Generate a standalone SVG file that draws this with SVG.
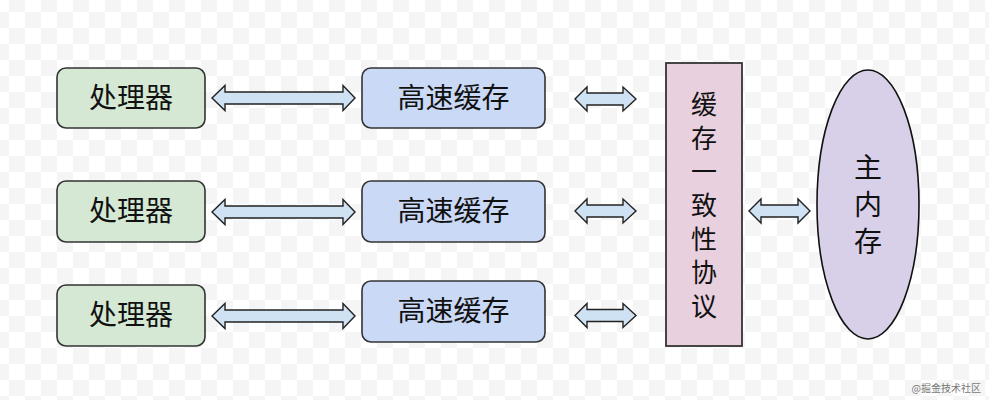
<svg xmlns="http://www.w3.org/2000/svg" width="989" height="400" viewBox="0 0 989 400">
  <defs>
    <pattern id="checker" patternUnits="userSpaceOnUse" x="9" y="12" width="32" height="32">
      <rect x="0" y="0" width="32" height="32" fill="#ffffff"/>
      <rect x="16" y="0" width="16" height="16" fill="#f5f5f5"/>
      <rect x="0" y="16" width="16" height="16" fill="#f5f5f5"/>
    </pattern>
    <style>
      text { font-family: "Noto Sans CJK SC", "Noto Sans", sans-serif; fill: #111111; }
      .lbl { font-size: 28px; text-anchor: middle; }
      .vlbl { font-size: 26px; text-anchor: middle; }
      .cpu { fill: #d5e8d4; stroke: #333333; stroke-width: 1.6; }
      .cache { fill: #cad9f5; stroke: #333333; stroke-width: 1.6; }
      .proto { fill: #e8d0de; stroke: #333333; stroke-width: 1.8; }
      .mem { fill: #d8d0e8; stroke: #111111; stroke-width: 1.6; }
      .arrow { fill: #cfe2f3; stroke: #222222; stroke-width: 1.4; stroke-linejoin: miter; }
      .wm { font-size: 10px; fill: #777777; }
    </style>
  </defs>
  <rect x="0" y="0" width="989" height="400" fill="url(#checker)"/>

  <g id="cpu1"><rect class="cpu" x="57" y="68" width="148" height="60" rx="9"/><text class="lbl" x="131" y="108">处理器</text></g>
  <g id="cpu2"><rect class="cpu" x="57" y="181" width="148" height="61" rx="9"/><text class="lbl" x="131" y="221">处理器</text></g>
  <g id="cpu3"><rect class="cpu" x="57" y="285" width="148" height="61" rx="9"/><text class="lbl" x="131" y="325">处理器</text></g>

  <g id="cache1"><rect class="cache" x="362" y="68" width="183" height="60" rx="9"/><text class="lbl" x="453.5" y="108">高速缓存</text></g>
  <g id="cache2"><rect class="cache" x="362" y="181" width="183" height="61" rx="9"/><text class="lbl" x="453.5" y="221">高速缓存</text></g>
  <g id="cache3"><rect class="cache" x="362" y="281" width="183" height="61" rx="9"/><text class="lbl" x="453.5" y="321">高速缓存</text></g>

  <g id="protocol">
    <rect class="proto" x="666" y="63" width="76" height="283"/>
    <text class="vlbl"><tspan x="704" y="114">缓</tspan><tspan x="704" y="148">存</tspan><tspan x="704" y="181">一</tspan><tspan x="704" y="215">致</tspan><tspan x="704" y="249">性</tspan><tspan x="704" y="282">协</tspan><tspan x="704" y="316">议</tspan></text>
  </g>

  <g id="memory">
    <ellipse class="mem" cx="868" cy="204.5" rx="51" ry="134.5"/>
    <text class="lbl"><tspan x="868" y="178">主</tspan><tspan x="868" y="215">内</tspan><tspan x="868" y="252">存</tspan></text>
  </g>

  <g id="connectors">
    <path class="arrow" d="M212,98 L225,85.5 L225,92 L343,92 L343,85.5 L355,98 L343,110.5 L343,104 L225,104 L225,110.5 Z"/>
    <path class="arrow" d="M212,212 L225,199.5 L225,206 L343,206 L343,199.5 L355,212 L343,224.5 L343,218 L225,218 L225,224.5 Z"/>
    <path class="arrow" d="M212,316 L225,303.5 L225,310 L343,310 L343,303.5 L355,316 L343,328.5 L343,322 L225,322 L225,328.5 Z"/>

    <path class="arrow" d="M575,99 L587,87 L587,93 L623,93 L623,87 L636,99 L623,111 L623,105 L587,105 L587,111 Z"/>
    <path class="arrow" d="M575,211 L587,199 L587,205 L623,205 L623,199 L636,211 L623,223 L623,217 L587,217 L587,223 Z"/>
    <path class="arrow" d="M575,315.5 L587,303.5 L587,309.5 L623,309.5 L623,303.5 L636,315.5 L623,327.5 L623,321.5 L587,321.5 L587,327.5 Z"/>

    <path class="arrow" d="M749,211 L761,199 L761,205 L798,205 L798,199 L810,211 L798,223 L798,217 L761,217 L761,223 Z"/>
  </g>

  <text class="wm" x="981" y="392" text-anchor="end">@掘金技术社区</text>
</svg>
